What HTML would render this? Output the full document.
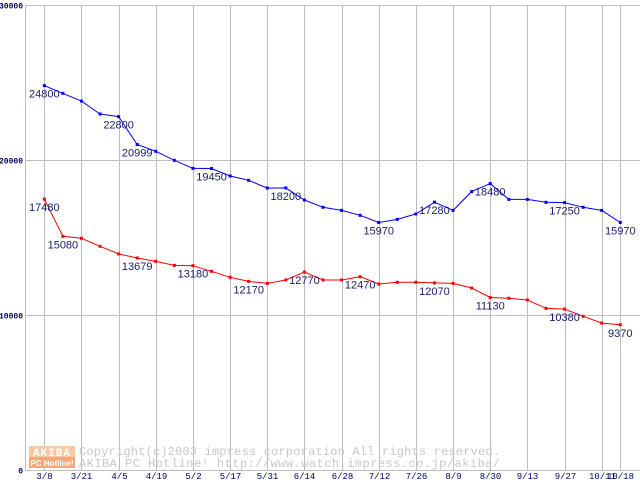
<!DOCTYPE html>
<html><head><meta charset="utf-8"><style>
html,body{margin:0;padding:0;background:#fff;}
svg{display:block;}
</style></head><body>
<svg id="chart" width="640" height="480" xmlns="http://www.w3.org/2000/svg" font-family="Liberation Sans, sans-serif">
<g id="grid"></g>
<g id="watermark">
  <rect x="29" y="446" width="46" height="11" fill="#f9c9a3"/>
  <rect x="29" y="457" width="46" height="11" fill="#f4a77a"/>
  <text x="52" y="456" font-size="11" font-weight="bold" fill="#fff" text-anchor="middle" font-family="Liberation Mono, monospace" letter-spacing="1">AKIBA</text>
  <text x="52" y="466" font-size="8" font-weight="bold" fill="#fff" text-anchor="middle">PC Hotline!</text>
  <text x="79" y="455" font-size="12" fill="#c8c8c8" font-family="Liberation Mono, monospace" textLength="421">Copyright(c)2003 impress corporation All rights reserved.</text>
  <text x="79" y="467" font-size="12" fill="#c8c8c8" font-family="Liberation Mono, monospace" textLength="421">AKIBA PC Hotline!  http://www.watch.impress.co.jp/akiba/</text>
</g>
<g id="series"></g>
</svg>
<script>
const xLabels = ["3/8","3/21","4/5","4/19","5/2","5/17","5/31","6/14","6/28","7/12","7/26","8/9","8/30","9/13","9/27","10/11","10/18"];
const xLabelIdx = [0,2,4,6,8,10,12,14,16,18,20,22,24,26,28,30,31];
const yTicks = [0,10000,20000,30000];
const blueValues = [24800,24300,23800,22970,22800,20999,20560,19980,19460,19450,18970,18690,18190,18200,17420,16950,16750,16430,15970,16170,16520,17280,16750,17960,18480,17460,17460,17270,17250,16950,16750,15970];
const redValues = [17480,15080,14950,14430,13940,13679,13460,13200,13180,12820,12430,12170,12040,12260,12770,12260,12260,12470,12000,12110,12110,12070,12040,11740,11130,11080,10970,10430,10380,9920,9480,9370];
const blueLabelIdx = [0,4,5,9,13,18,21,24,28,31];
const redLabelIdx = [0,1,5,8,11,14,17,21,24,28,31];

const NS = "http://www.w3.org/2000/svg";
const X0 = 44.3, XSTEP = 18.58, Y0 = 470, YTOP = 5, YMAX = 30000;
function xs(i){ return X0 + i*XSTEP; }
function ys(v){ return Y0 - v*(Y0-YTOP)/YMAX; }
function mk(tag, attrs, parent){ const e=document.createElementNS(NS,tag); for(const k in attrs) e.setAttribute(k,attrs[k]); parent.appendChild(e); return e; }

const grid = document.getElementById('grid');
const ax = mk('line',{x1:25.5,y1:YTOP,x2:25.5,y2:Y0,stroke:'#bdbdbd','stroke-width':1},grid);


yTicks.forEach(v=>{
  const y=Math.round(ys(v))+0.5;
  const l=mk('line',{x1:25,y1:y,x2:640,y2:y,stroke:'#bdbdbd','stroke-width':1},grid);
  
  
  const t=mk('text',{x:23,y:y+3,'font-size':8,'font-weight':'bold',fill:'#000066','text-anchor':'end','font-family':'Liberation Mono, monospace'},grid);
  t.textContent=String(v);
  
  
});
xLabelIdx.forEach((idx,k)=>{
  const x=Math.round(xs(idx))+0.5;
  const l=mk('line',{x1:x,y1:YTOP,x2:x,y2:Y0,stroke:'#bdbdbd','stroke-width':1},grid);
  
  
  const t=mk('text',{x:x,y:479,'font-size':9,fill:'#000066','text-anchor':'middle','font-family':'Liberation Mono, monospace'},grid);
  t.textContent=xLabels[k];
  
  
});

const layer=document.getElementById('series');
function drawSeries(vals, labelIdx, color, name){
  const g=mk('g',{},layer);
  
  
  const pts=vals.map((v,i)=>xs(i).toFixed(1)+','+ys(v).toFixed(1)).join(' ');
  const pl=mk('polyline',{points:pts,fill:'none',stroke:color,'stroke-width':1},g);
  
  
  vals.forEach((v,i)=>{
    const r=mk('rect',{x:xs(i)-1.5,y:ys(v)-1.5,width:3,height:3,fill:color},g);
    
    
  });
  labelIdx.forEach(i=>{
    const t=mk('text',{x:xs(i),y:ys(vals[i])+12,'font-size':11,fill:'#1a1a70','text-anchor':'middle'},g);
    t.textContent=String(vals[i]);
    
    
  });
}
drawSeries(blueValues, blueLabelIdx, '#0000ff', 'blue');
drawSeries(redValues, redLabelIdx, '#ff0000', 'red');
</script>
</body></html>
